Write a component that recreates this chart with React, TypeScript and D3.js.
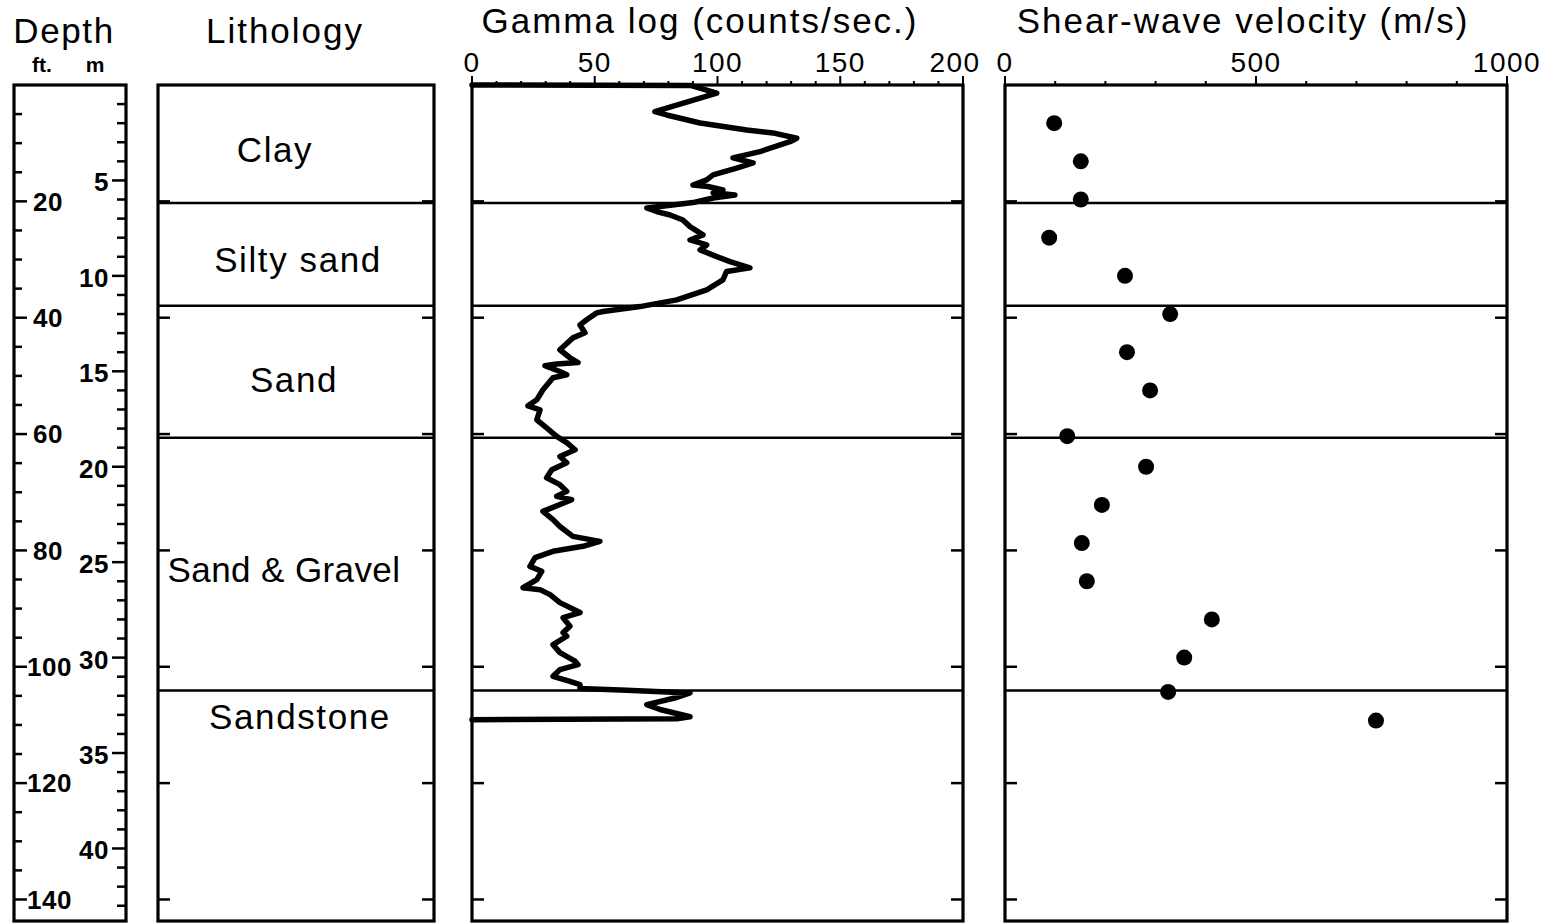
import * as d3 from 'd3';

// lithology layers (depth in metres)
const layerNames = ['Clay', 'Silty sand', 'Sand', 'Sand & Gravel', 'Sandstone'];
const layerLabelDepth = [3.4, 9.15, 15.4, 25.4, 33.1];
const layerBoundaries = [6.18, 11.57, 18.48, 31.73];

// tick labels
const feetLabels = [20, 40, 60, 80, 100, 120, 140];
const metreLabels = [5, 10, 15, 20, 25, 30, 35, 40];
const gammaLabels = [0, 50, 100, 150, 200];
const velocityLabels = [0, 500, 1000];

// gamma log trace
const gammaDepth = [
  0, 0.02, 0.43, 1.4, 1.57, 1.99, 2.36, 2.51, 2.79, 2.97, 3.49, 3.82, 4.08, 4.35, 4.71, 4.97,
  5.24, 5.32, 5.5, 5.65, 5.76, 5.92, 6.16, 6.37, 6.44, 6.63, 6.81, 7.07, 7.42, 7.85, 8.12,
  8.38, 8.64, 8.99, 9.25, 9.58, 9.77, 10.21, 10.73, 11.26, 11.61, 11.87, 11.94, 12.3, 12.57,
  12.98, 13.25, 13.87, 14.29, 14.54, 14.62, 14.71, 15.01, 15.18, 15.34, 15.97, 16.49, 16.81,
  17.02, 17.54, 17.96, 18.41, 18.74, 19.11, 19.46, 19.79, 20.16, 20.58, 20.94, 21.29, 21.55,
  21.73, 22.34, 22.77, 23.13, 23.65, 23.91, 24.17, 24.43, 24.76, 25.22, 25.48, 25.92, 26.34,
  26.44, 26.7, 27.12, 27.64, 27.91, 28.36, 28.69, 28.88, 29.32, 29.74, 30.19, 30.37, 30.63,
  30.98, 31.24, 31.41, 31.62, 31.71, 31.85, 32.09, 32.46, 32.72, 33.1, 33.21, 33.25,
];
const gammaValue = [
  0, 89, 99.7, 74.5, 79.3, 92.9, 111.9, 122.6, 132.3, 129.5, 117.3, 106.3, 114.5, 107.8, 98.2,
  95.6, 90, 96.1, 102.2, 98.2, 107.1, 98.2, 90, 76.6, 71.2, 75.2, 80.7, 85.9, 88.8, 94.1, 88.8,
  95.6, 92.9, 99.7, 105.1, 113.2, 103.7, 102.2, 95.6, 83.4, 68.4, 53.4, 50.8, 46.7, 44, 46,
  41.1, 35.8, 39.9, 43.2, 34.5, 29.7, 35.8, 38.6, 33, 28.9, 26.4, 22.8, 27.7, 26.4, 30.4,
  34.5, 38.6, 42, 35.8, 38.6, 32.5, 30.4, 35.8, 38.6, 34.5, 40.6, 28.9, 33, 35.8, 41.1, 52.1,
  45.2, 33, 25.7, 23.6, 28.4, 26.4, 20.8, 27.7, 31.8, 35.8, 44, 37.1, 39.9, 37.1, 38.6, 33,
  35.8, 42, 43.2, 35.8, 33, 39.9, 44, 44, 63, 88.8, 83.4, 71.2, 76.6, 88.8, 83.4, 0,
];

// shear-wave velocity measurements
const vsDepth = [2, 4, 6, 8, 10, 12, 14, 16, 18.4, 20, 22, 24, 26, 28, 30, 31.8, 33.3];
const vsValue = [98, 151, 151, 88, 239, 329, 243, 289, 124, 281, 193, 153, 163, 412, 357, 325, 739];

const W = 1549;
const H = 923;
const top = 85;
const bottom = 921;
const depthBox = { x0: 14, x1: 126 };
const lithBox = { x0: 158, x1: 434 };
const gammaBox = { x0: 472, x1: 963 };
const velBox = { x0: 1005, x1: 1507 };

const font = '"Liberation Sans", Arial, Helvetica, sans-serif';
const ink = '#000';

const y = d3.scaleLinear().domain([0, 43.8]).range([top, bottom]);
const ftToM = (ft: number) => ft * 0.3048;
const xGamma = d3.scaleLinear().domain([0, 200]).range([gammaBox.x0, gammaBox.x1]);
const xVel = d3.scaleLinear().domain([0, 1000]).range([velBox.x0, velBox.x1]);

function Frame({ x0, x1 }: { x0: number; x1: number }) {
  return (
    <rect x={x0} y={top} width={x1 - x0} height={bottom - top} fill="none" stroke={ink} strokeWidth={3.2} />
  );
}

// ticks every 20 ft on both inner sides of a panel
function SideTicks({ x0, x1 }: { x0: number; x1: number }) {
  return (
    <g stroke={ink} strokeWidth={2.5}>
      {feetLabels.map((ft) => (
        <g key={ft}>
          <line x1={x0} x2={x0 + 12} y1={y(ftToM(ft))} y2={y(ftToM(ft))} />
          <line x1={x1 - 12} x2={x1} y1={y(ftToM(ft))} y2={y(ftToM(ft))} />
        </g>
      ))}
    </g>
  );
}

function Boundaries({ x0, x1 }: { x0: number; x1: number }) {
  return (
    <g stroke={ink} strokeWidth={2.5}>
      {layerBoundaries.map((d) => (
        <line key={d} x1={x0} x2={x1} y1={y(d)} y2={y(d)} />
      ))}
    </g>
  );
}

const labelNudge = [-15, 8, 4, -6, 10];

export default function App() {
  const gammaLine = d3
    .line<number>()
    .x((_, i) => xGamma(gammaValue[i]))
    .y((d) => y(d));

  const gammaMinor = d3.range(0, 201, 10);
  const velMinor = d3.range(0, 1001, 100);
  const feetMinor = d3.range(5, 144, 5);
  const metreMinor = d3.range(1, 44, 1);

  return (
    <svg
      width={W}
      height={H}
      style={{ position: 'absolute', left: 0, top: 0, background: '#fff' }}
      fontFamily={font}
    >
      {/* depth column */}
      <text x={64} y={43} fontSize={35} textAnchor="middle" letterSpacing={1.6}>Depth</text>
      <text x={42} y={72} fontSize={21} fontWeight="bold" textAnchor="middle">ft.</text>
      <text x={95} y={72} fontSize={21} fontWeight="bold" textAnchor="middle">m</text>
      <Frame {...depthBox} />
      <g stroke={ink} strokeWidth={2.5}>
        {feetMinor.map((ft) => (
          <line
            key={ft}
            x1={depthBox.x0}
            x2={depthBox.x0 + (ft % 20 === 0 ? 13 : 8)}
            y1={y(ftToM(ft))}
            y2={y(ftToM(ft))}
          />
        ))}
        {metreMinor.map((m) => (
          <line
            key={m}
            x1={depthBox.x1 - (m % 5 === 0 ? 14 : 9)}
            x2={depthBox.x1}
            y1={y(m)}
            y2={y(m)}
          />
        ))}
      </g>
      <g fontSize={26} fontWeight="bold" letterSpacing={0.5}>
        {feetLabels.map((ft) => (
          <text key={ft} x={ft >= 100 ? 27 : 33} y={y(ftToM(ft))} dy="0.36em">
            {ft}
          </text>
        ))}
        {metreLabels.map((m) => (
          <text key={m} x={depthBox.x1 - 17} y={y(m)} dy="0.42em" textAnchor="end">
            {m}
          </text>
        ))}
      </g>

      {/* lithology */}
      <text x={285} y={43} fontSize={35} textAnchor="middle" letterSpacing={2}>Lithology</text>
      <Frame {...lithBox} />
      <SideTicks {...lithBox} />
      <Boundaries {...lithBox} />
      <g fontSize={35} textAnchor="middle" letterSpacing={1.6}>
        {layerNames.map((name, i) => (
          <text
            key={name}
            x={290 + labelNudge[i]}
            y={y(layerLabelDepth[i])}
            dy="0.36em"
            letterSpacing={name.includes('&') ? 0.4 : undefined}
          >
            {name}
          </text>
        ))}
      </g>

      {/* gamma log */}
      <text x={700} y={33} fontSize={35} textAnchor="middle" letterSpacing={2}>Gamma log (counts/sec.)</text>
      <Frame {...gammaBox} />
      <SideTicks {...gammaBox} />
      <Boundaries {...gammaBox} />
      <g stroke={ink} strokeWidth={2}>
        {gammaMinor.map((v) => (
          <line key={v} x1={xGamma(v)} x2={xGamma(v)} y1={top} y2={top - (v % 50 === 0 ? 9 : 4)} />
        ))}
      </g>
      <g fontSize={28} textAnchor="middle" letterSpacing={1.5}>
        {gammaLabels.map((v) => (
          <text key={v} x={xGamma(v) - (v === 200 ? 8 : 0)} y={72}>
            {v}
          </text>
        ))}
      </g>
      <path
        d={gammaLine(gammaDepth) ?? ''}
        fill="none"
        stroke={ink}
        strokeWidth={5.5}
        strokeLinejoin="round"
        strokeLinecap="round"
      />

      {/* shear-wave velocity */}
      <text x={1243} y={33} fontSize={35} textAnchor="middle" letterSpacing={2}>Shear-wave velocity (m/s)</text>
      <Frame {...velBox} />
      <SideTicks {...velBox} />
      <Boundaries {...velBox} />
      <g stroke={ink} strokeWidth={2}>
        {velMinor.map((v) => (
          <line key={v} x1={xVel(v)} x2={xVel(v)} y1={top} y2={top - (v % 500 === 0 ? 9 : 4)} />
        ))}
      </g>
      <g fontSize={28} textAnchor="middle" letterSpacing={1.5}>
        {velocityLabels.map((v) => (
          <text key={v} x={xVel(v)} y={72}>
            {v}
          </text>
        ))}
      </g>
      <g fill={ink}>
        {vsDepth.map((d, i) => (
          <circle key={i} cx={xVel(vsValue[i])} cy={y(d)} r={8} />
        ))}
      </g>
    </svg>
  );
}
